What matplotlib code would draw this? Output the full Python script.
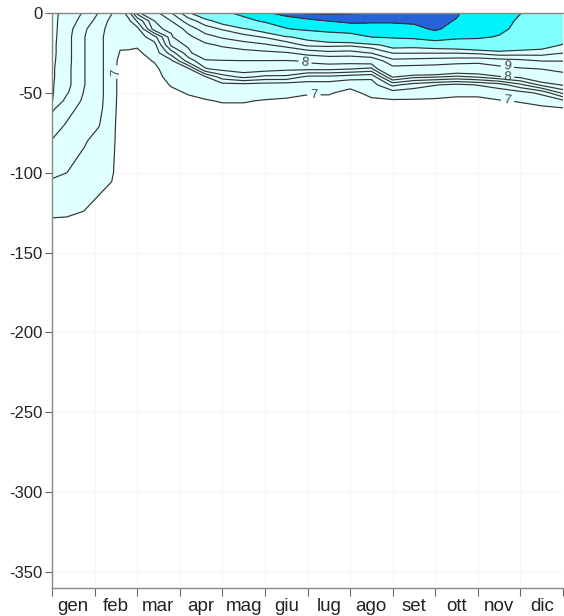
import numpy as np
import matplotlib
matplotlib.use("Agg")
import matplotlib.pyplot as plt

plt.rcParams["font.family"] = ["Liberation Sans", "DejaVu Sans"]
plt.rcParams["axes.unicode_minus"] = False

# mesi e tempi dei profili (in mesi dall'inizio di gennaio)
month_labels = ["gen", "feb", "mar", "apr", "mag", "giu",
                "lug", "ago", "set", "ott", "nov", "dic"]
times = [0.0, 0.35, 0.75, 1.1, 1.4, 1.6, 1.8, 2.0, 2.4, 2.8, 3.2, 3.6, 4.0,
         4.5, 5.0, 5.5, 6.0, 6.5, 7.0, 7.5, 8.0, 8.5, 9.0, 9.5, 10.0, 10.5,
         11.0, 11.5, 12.0]
depths = [0, 5, 10, 15, 20, 25, 30, 35, 40, 45, 50, 55, 60, 70, 80, 100, 120, 140, 360]

# temperatura (°C), un profilo per ogni tempo
temp = [
    [7.86, 7.86, 7.86, 7.86, 7.85, 7.85, 7.84, 7.83, 7.83, 7.82, 7.82, 7.81, 7.63, 7.50, 7.39, 7.23, 7.07, 6.90, 6.60],
    [7.72, 7.70, 7.69, 7.67, 7.67, 7.67, 7.67, 7.66, 7.66, 7.66, 7.62, 7.53, 7.47, 7.38, 7.32, 7.20, 7.05, 6.92, 6.60],
    [7.58, 7.53, 7.43, 7.41, 7.41, 7.41, 7.41, 7.41, 7.41, 7.41, 7.39, 7.37, 7.33, 7.28, 7.22, 7.13, 7.02, 6.92, 6.60],
    [7.39, 7.31, 7.28, 7.26, 7.26, 7.26, 7.26, 7.26, 7.26, 7.26, 7.26, 7.26, 7.25, 7.21, 7.14, 7.07, 6.97, 6.90, 6.60],
    [7.21, 7.15, 7.11, 7.09, 7.09, 7.09, 7.09, 7.09, 7.09, 7.09, 7.09, 7.08, 7.07, 7.05, 7.04, 7.02, 6.95, 6.88, 6.60],
    [7.08, 7.06, 7.04, 7.03, 7.02, 6.99, 6.95, 6.94, 6.94, 6.94, 6.94, 6.94, 6.94, 6.94, 6.94, 6.93, 6.90, 6.86, 6.60],
    [7.30, 7.15, 7.10, 7.07, 7.03, 6.98, 6.94, 6.93, 6.93, 6.93, 6.92, 6.92, 6.92, 6.92, 6.91, 6.90, 6.88, 6.85, 6.60],
    [7.87, 7.42, 7.12, 7.08, 7.02, 6.97, 6.94, 6.93, 6.93, 6.93, 6.92, 6.92, 6.92, 6.91, 6.90, 6.89, 6.87, 6.85, 6.60],
    [8.60, 7.98, 7.90, 7.32, 7.12, 7.07, 7.01, 6.96, 6.94, 6.93, 6.92, 6.92, 6.92, 6.91, 6.90, 6.89, 6.87, 6.85, 6.60],
    [9.95, 9.01, 8.10, 7.92, 7.84, 7.50, 7.15, 7.10, 7.06, 7.01, 6.97, 6.95, 6.94, 6.92, 6.91, 6.90, 6.88, 6.85, 6.60],
    [11.80, 10.50, 9.40, 8.75, 8.05, 7.92, 7.70, 7.15, 7.08, 7.04, 7.01, 6.97, 6.95, 6.93, 6.92, 6.90, 6.88, 6.85, 6.60],
    [13.40, 11.55, 10.55, 9.60, 8.80, 8.30, 7.95, 7.78, 7.18, 7.10, 7.04, 6.99, 6.97, 6.94, 6.92, 6.90, 6.88, 6.85, 6.60],
    [15.00, 12.60, 11.10, 10.15, 9.15, 8.50, 7.96, 7.87, 7.50, 7.12, 7.06, 7.01, 6.97, 6.95, 6.93, 6.91, 6.89, 6.86, 6.60],
    [17.10, 14.70, 11.85, 10.60, 9.55, 8.60, 7.98, 7.93, 7.65, 7.12, 7.06, 7.01, 6.97, 6.95, 6.93, 6.91, 6.89, 6.86, 6.60],
    [19.30, 16.60, 12.70, 11.10, 9.85, 8.75, 7.97, 7.90, 7.55, 7.10, 7.06, 6.99, 6.97, 6.95, 6.93, 6.91, 6.89, 6.86, 6.60],
    [21.50, 17.80, 15.80, 11.85, 10.40, 8.90, 7.95, 7.85, 7.55, 7.08, 7.04, 6.98, 6.96, 6.95, 6.93, 6.91, 6.89, 6.86, 6.60],
    [22.30, 19.20, 16.80, 12.50, 11.25, 9.35, 8.05, 7.85, 7.35, 7.10, 7.01, 6.97, 6.96, 6.95, 6.93, 6.91, 6.89, 6.86, 6.60],
    [22.40, 20.05, 17.70, 13.40, 11.30, 9.70, 8.10, 7.85, 7.35, 7.10, 7.01, 6.97, 6.96, 6.95, 6.93, 6.91, 6.89, 6.86, 6.60],
    [22.20, 20.60, 18.30, 14.00, 11.20, 9.60, 8.10, 7.81, 7.30, 7.03, 6.97, 6.96, 6.95, 6.94, 6.93, 6.91, 6.89, 6.86, 6.60],
    [21.80, 20.60, 18.20, 16.05, 11.60, 10.05, 8.15, 7.75, 7.25, 7.10, 7.03, 6.98, 6.96, 6.94, 6.93, 6.91, 6.89, 6.86, 6.60],
    [21.20, 20.40, 18.80, 16.50, 12.60, 11.05, 9.70, 8.60, 8.02, 7.45, 7.10, 6.98, 6.96, 6.94, 6.93, 6.91, 6.89, 6.86, 6.60],
    [20.90, 20.40, 19.40, 17.00, 12.50, 11.05, 9.60, 8.55, 7.85, 7.30, 7.08, 6.98, 6.96, 6.94, 6.93, 6.91, 6.89, 6.86, 6.60],
    [20.60, 20.40, 20.30, 18.80, 12.80, 11.05, 9.50, 8.50, 7.82, 7.21, 7.05, 6.98, 6.96, 6.94, 6.93, 6.91, 6.89, 6.86, 6.60],
    [20.20, 19.90, 19.20, 17.00, 13.00, 11.05, 9.40, 8.30, 7.75, 7.15, 7.02, 6.98, 6.96, 6.94, 6.93, 6.91, 6.89, 6.86, 6.60],
    [19.00, 18.90, 18.60, 16.60, 13.50, 11.20, 9.30, 8.30, 7.82, 7.21, 7.02, 6.98, 6.96, 6.94, 6.93, 6.91, 6.89, 6.86, 6.60],
    [17.50, 17.40, 17.00, 15.70, 13.50, 11.60, 9.50, 8.70, 7.95, 7.30, 7.08, 6.99, 6.96, 6.94, 6.93, 6.91, 6.89, 6.86, 6.60],
    [16.10, 15.40, 14.80, 14.00, 13.00, 11.50, 9.70, 8.90, 8.05, 7.55, 7.12, 7.01, 6.96, 6.94, 6.93, 6.91, 6.89, 6.86, 6.60],
    [15.20, 14.80, 14.20, 13.50, 12.70, 11.40, 10.02, 9.02, 8.30, 7.85, 7.25, 7.05, 6.97, 6.94, 6.93, 6.91, 6.89, 6.86, 6.60],
    [14.50, 14.10, 13.50, 12.80, 11.90, 11.02, 10.02, 9.30, 8.60, 8.02, 7.65, 7.15, 6.98, 6.95, 6.93, 6.91, 6.89, 6.86, 6.60],
]

fill_levels = [7, 12, 16, 20, 22, 30]
fill_colors = ["#e0ffff", "#80ffff", "#00f2fa", "#2662d8", "#1d4cbc"]
line_levels = [7.2, 7.4, 7.6, 7.8, 10, 11, 12, 16, 20, 22]
labelled_levels = [7, 8, 9]

X, Y = np.meshgrid(times, -np.array(depths))
Z = np.array(temp).T

fig = plt.figure(figsize=(5.64, 6.16), dpi=100)
ax = fig.add_axes([52 / 564, 1 - 588 / 616, 511 / 564, 575 / 616])

ax.grid(True, color="#f6f6f6", linewidth=0.8, zorder=0)
ax.set_axisbelow(True)

ax.contourf(X, Y, Z, levels=fill_levels, colors=fill_colors, zorder=1)
ax.contour(X, Y, Z, levels=line_levels, colors="#333333", linewidths=0.85, zorder=2)
cs_lab = ax.contour(X, Y, Z, levels=labelled_levels, colors="#333333", linewidths=0.85, zorder=2)

# etichette delle isoterme
label_pos = [(1.53, -37), (6.15, -50), (10.7, -54),
             (5.94, -31), (10.7, -40), (10.7, -32)]
ax.clabel(cs_lab, manual=label_pos, fmt="%g",
          fontsize=9.5, inline=True, inline_spacing=3, colors="#444444")

ax.set_xlim(0, 12)
ax.set_ylim(-360, 0)
ax.set_yticks(range(0, -351, -50))
ax.set_xticks(range(0, 13))
ax.set_xticklabels([])
ax.set_xticks(np.arange(0.5, 12, 1), minor=True)
ax.set_xticklabels(month_labels, minor=True)
ax.tick_params(axis="x", which="major", length=6, color="#666666")
ax.tick_params(axis="x", which="minor", length=0, pad=7, labelsize=13.5, labelcolor="#222222")
ax.tick_params(axis="y", length=5, pad=2, color="#666666", labelsize=12, labelcolor="#222222")

for side in ["left", "bottom", "top"]:
    ax.spines[side].set_color("#888888")
    ax.spines[side].set_linewidth(1.0)
ax.spines["right"].set_visible(False)

fig.savefig("out.png", dpi=100)
